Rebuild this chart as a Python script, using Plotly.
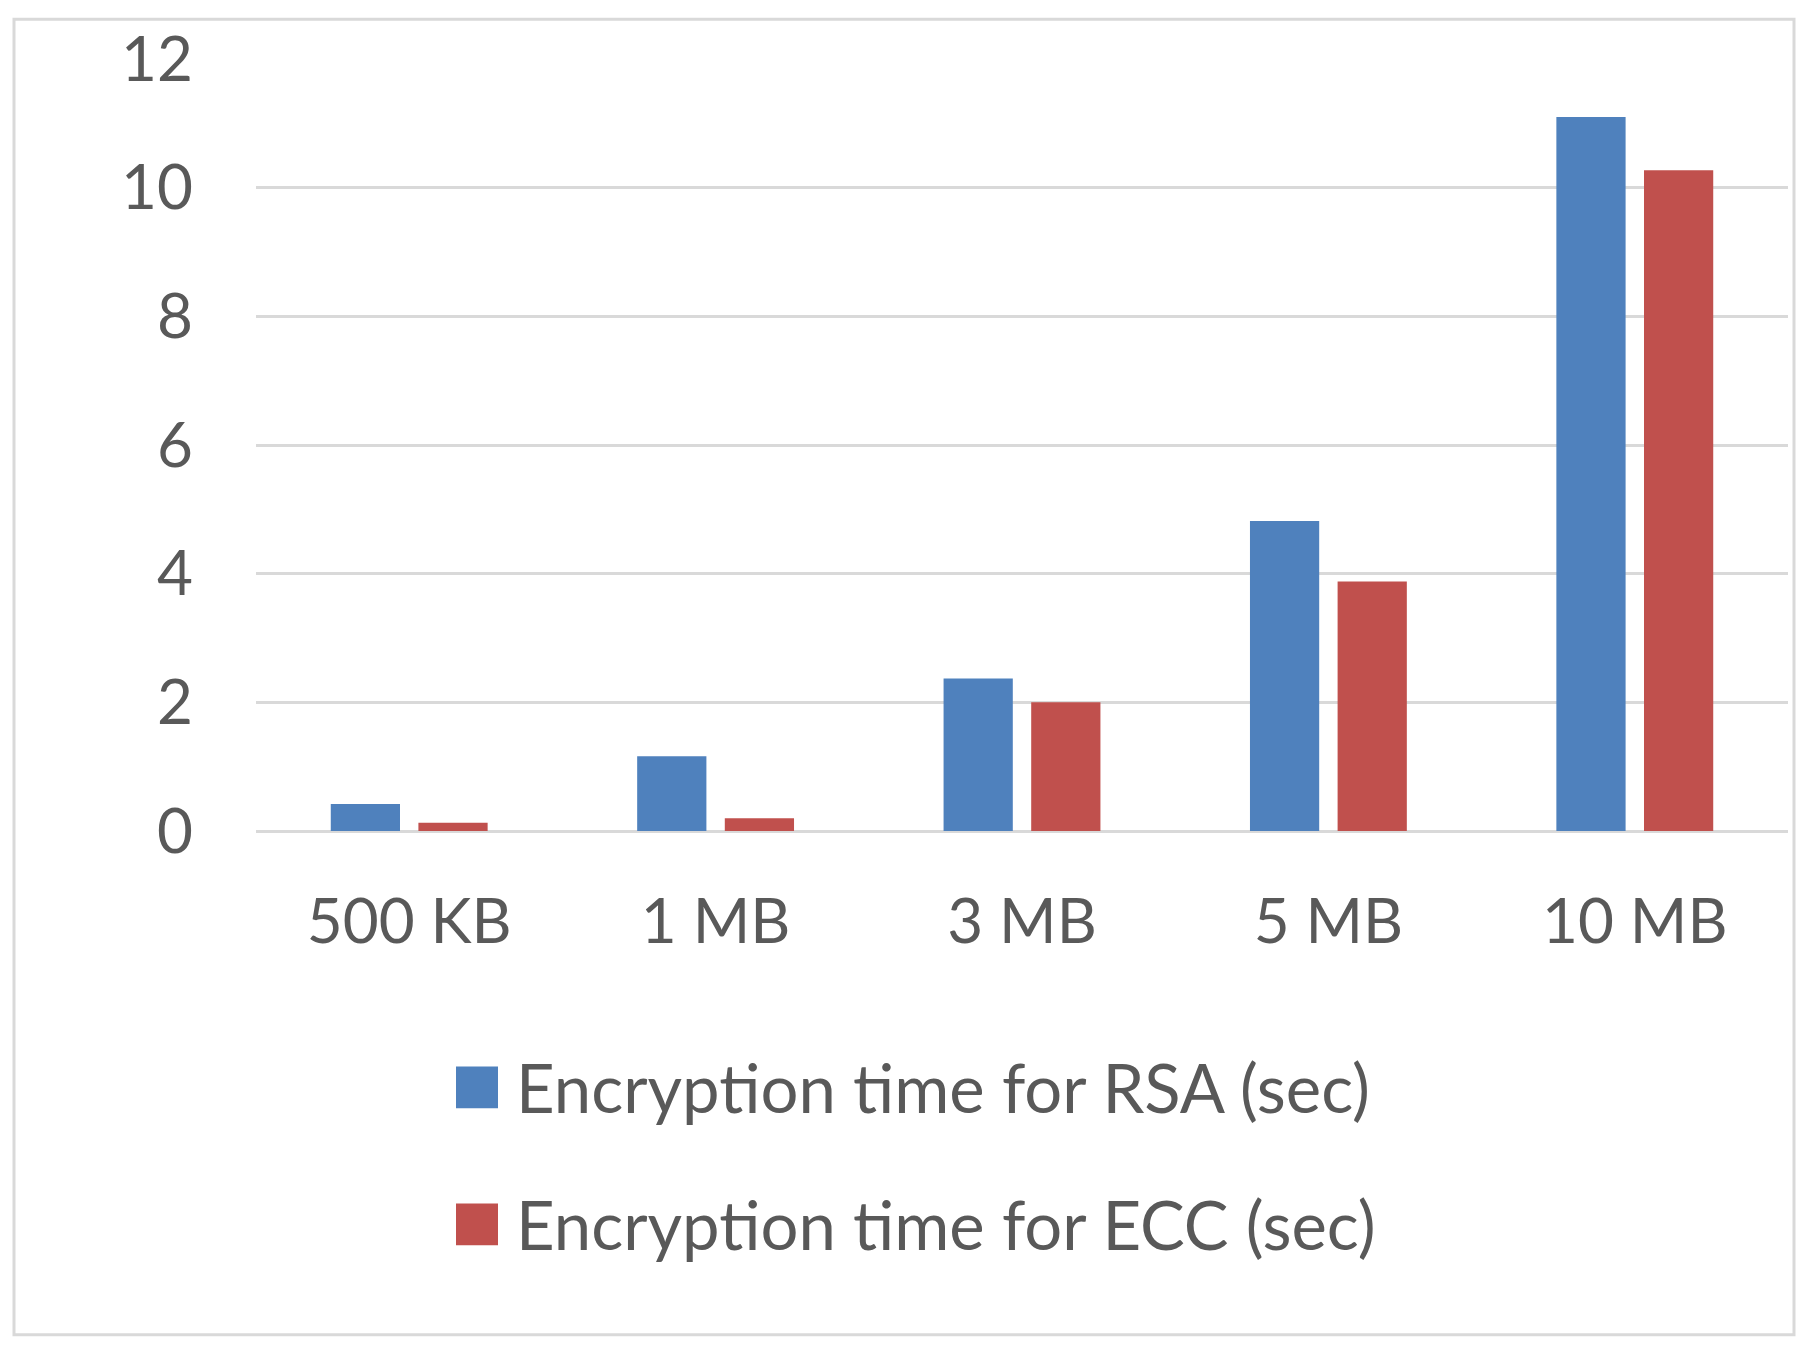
import plotly.graph_objects as go

# values (seconds)
sizes = ["500 KB", "1 MB", "3 MB", "5 MB", "10 MB"]
rsa_name = "Encryption time for RSA (sec)"
ecc_name = "Encryption time for ECC (sec)"
rsa_time = [0.42, 1.16, 2.37, 4.82, 11.1]
ecc_time = [0.13, 0.2, 2.0, 3.88, 10.27]
y_ticks = [0, 2, 4, 6, 8, 10, 12]

BLUE = "#4F81BD"
RED = "#C0504D"
GREY_TXT = "#595959"
GRID = "#D9D9D9"
FONT = "Lato, 'Open Sans', sans-serif"

# the page puts the figure 8px in from the top-left corner
OFF = 8
W, H = 1809 - OFF, 1351 - OFF
L, T = 256 - OFF, 54 - OFF
R, B = W - (1788 - OFF), H - (831 - OFF)
pw, ph = W - L - R, H - T - B


def px_x(x):
    return (x - OFF - L) / pw


def px_y(y):
    return (H - B - (y - OFF)) / ph


fig = go.Figure()
fig.add_trace(go.Bar(x=sizes, y=rsa_time, name=rsa_name, marker_color=BLUE,
                     marker_line_width=0, showlegend=False))
fig.add_trace(go.Bar(x=sizes, y=ecc_time, name=ecc_name, marker_color=RED,
                     marker_line_width=0, showlegend=False))

fig.update_layout(
    width=W, height=H,
    margin=dict(l=L, r=R, t=T, b=B),
    paper_bgcolor="white", plot_bgcolor="white",
    barmode="group", bargap=0.428, bargroupgap=0.21,
    font=dict(family=FONT, size=62, color=GREY_TXT),
)
fig.update_yaxes(range=[0, 12], tickvals=y_ticks, showgrid=True, gridcolor=GRID,
                 gridwidth=3, zeroline=True, zerolinecolor=GRID, zerolinewidth=3,
                 showline=False, ticklabelstandoff=62, fixedrange=True)
fig.update_xaxes(showgrid=False, showline=False, ticklabelstandoff=49,
                 fixedrange=True)

# outer chart frame
fig.add_shape(type="rect", xref="paper", yref="paper",
              x0=px_x(14), x1=px_x(1794), y0=px_y(1338), y1=px_y(14),
              line=dict(color=GRID, width=3), layer="below")

# legend, drawn by hand so the swatches can be as large as in the original
for name, color, cy in [(rsa_name, BLUE, 1089), (ecc_name, RED, 1227)]:
    fig.add_shape(type="rect", xref="paper", yref="paper",
                  x0=px_x(456), x1=px_x(498), y0=px_y(cy + 21), y1=px_y(cy - 21),
                  fillcolor=color, line_width=0)
    fig.add_annotation(text=name, xref="paper", yref="paper",
                       x=px_x(514), y=px_y(cy), xanchor="left", yanchor="middle",
                       showarrow=False, font=dict(size=67, color=GREY_TXT))

fig.write_html("out.html")
